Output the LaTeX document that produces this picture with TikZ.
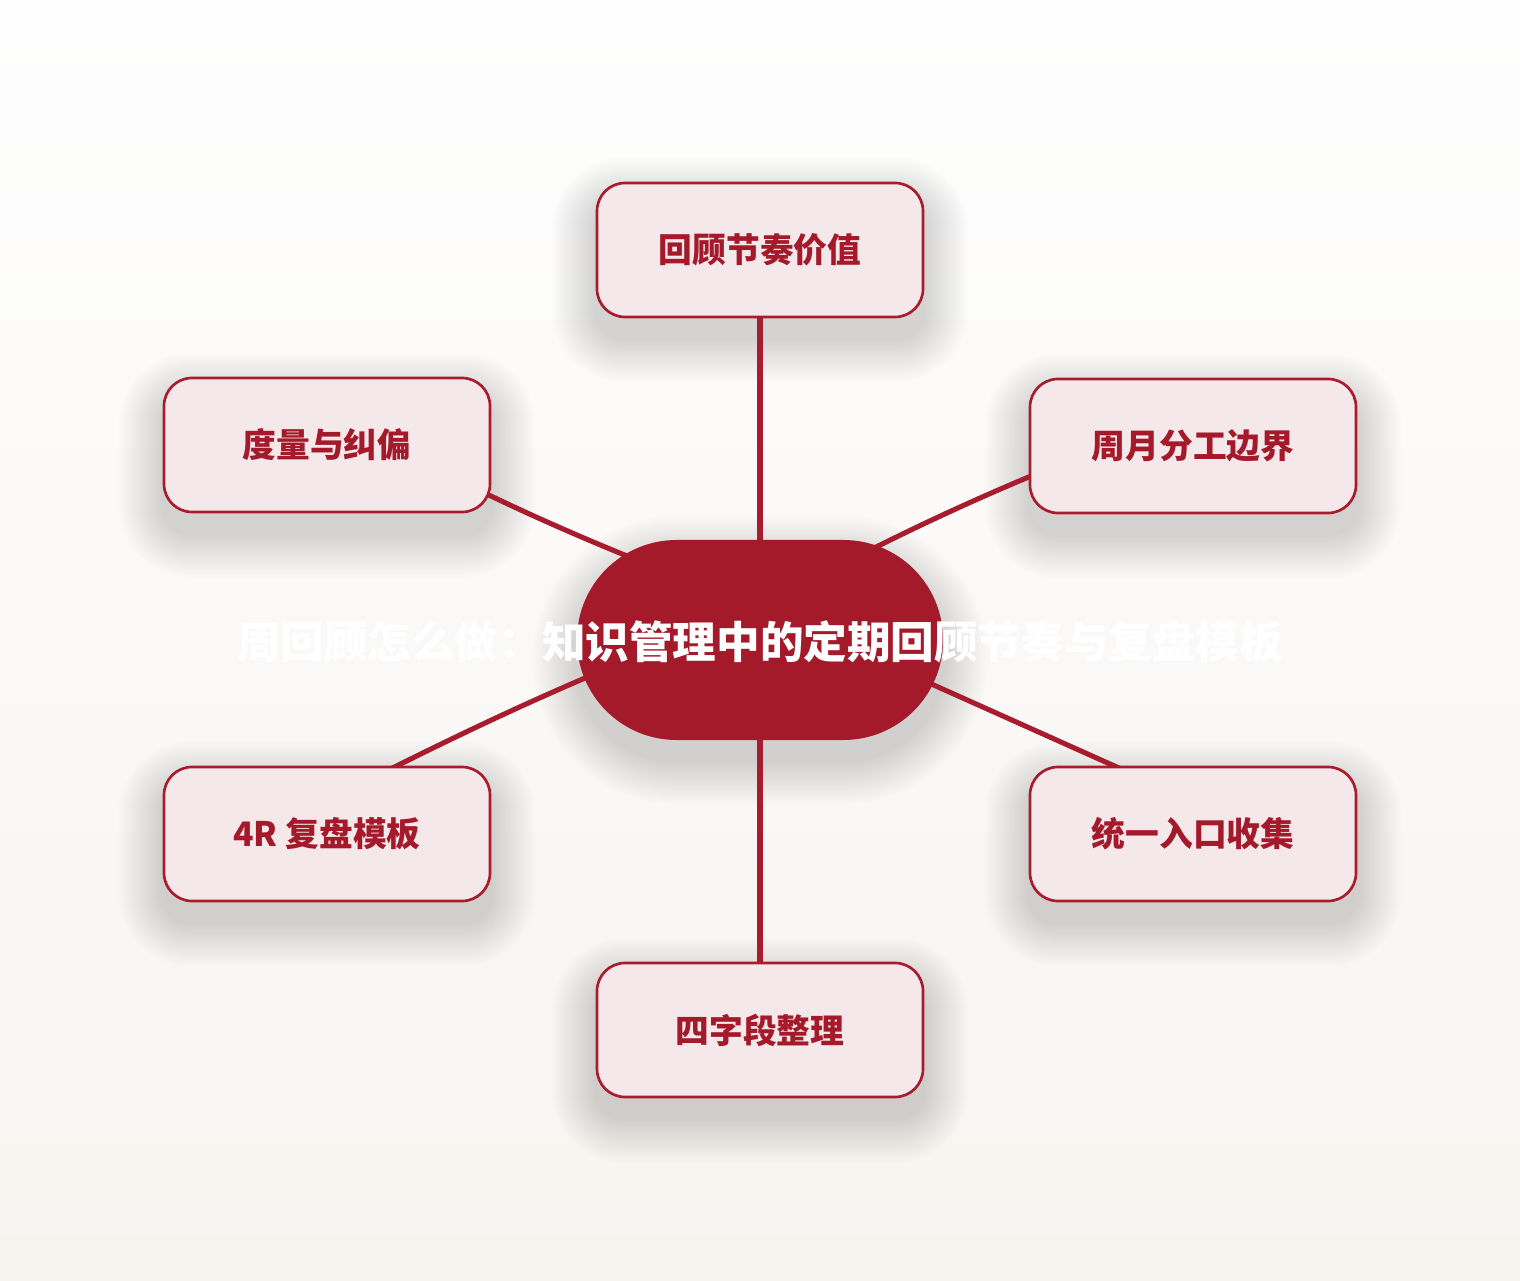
\documentclass[tikz,border=0pt]{standalone}
\usepackage{fontspec}
\IfFontExistsTF{Noto Sans CJK SC Black}
  {\setmainfont{Noto Sans CJK SC}[BoldFont={Noto Sans CJK SC Black}]}
  {\setmainfont{Noto Sans CJK SC}[BoldFont={Noto Sans CJK SC Bold}]}
\usetikzlibrary{positioning,backgrounds}

\definecolor{deepred}{HTML}{A51A2A}
\definecolor{palepink}{HTML}{F5E8EB}
\definecolor{edgered}{HTML}{A81C2D}
\definecolor{bgtop}{HTML}{FEFEFE}
\definecolor{bgbottom}{HTML}{F7F4F0}

\tikzset{
  hub/.style={fill=deepred, rounded corners=2.49cm, minimum width=9.15cm,
      minimum height=5cm, inner sep=0pt},
  hubtext/.style={text=white, inner sep=0pt,
      font=\fontsize{31}{36}\selectfont\bfseries},
  leaf/.style={draw=edgered, line width=1.9pt, fill=palepink, rounded corners=0.7cm,
      minimum width=8.15cm, minimum height=3.35cm, text=deepred,
      font=\fontsize{24}{28}\selectfont\bfseries},
  haze/.style={fill=black, opacity=0.0075},
  link/.style={draw=edgered, line width=3.6pt, line cap=round}
}

\begin{document}
\begin{tikzpicture}

  \useasboundingbox (0,0) rectangle (38,32);

  % centre
  \node[hub] (hub) at (19,16) {};
  \node[hubtext] (title) at (19,15.95) {周回顾怎么做：知识管理中的定期回顾节奏与复盘模板};

  % branches
  \node[leaf] (rhythm) at (19,25.75) {回顾节奏价值};
  \node[leaf] (measure) at (8.175,20.875) {度量与纠偏};
  \node[leaf] (split) at (29.825,20.85) {周月分工边界};
  \node[leaf] (template) at (8.175,11.15) {4R 复盘模板};
  \node[leaf] (inbox) at (29.825,11.15) {统一入口收集};
  \node[leaf] (fields) at (19,6.25) {四字段整理};

  \begin{scope}[on background layer]
    \shade[top color=bgtop, bottom color=bgbottom] (0,0) rectangle (38,32);

    % soft shadows
    \foreach \k in {1,...,20} {
      \pgfmathsetmacro\r{0.055*\k}
      \foreach \n in {rhythm,measure,split,template,inbox,fields}
        \fill[haze, rounded corners=0.7cm+\r cm]
          ([shift={(-\r,-0.5-\r)}]\n.south west) rectangle ([shift={(\r,-0.5+\r)}]\n.north east);
      \fill[haze, rounded corners=2.49cm+\r cm]
        ([shift={(-\r,-0.5-\r)}]hub.south west) rectangle ([shift={(\r,-0.5+\r)}]hub.north east);
    }

    \draw[link] (hub.center) -- (rhythm.center);
    \draw[link] (hub.center) -- (fields.center);
    \draw[link] ([yshift=0.82cm]hub.center) to[bend left=4] ([yshift=0.82cm]measure.center);
    \draw[link] ([yshift=0.82cm]hub.center) to[bend left=4] ([yshift=0.82cm]split.center);
    \draw[link] ([yshift=0.82cm]hub.center) to[bend right=3] ([yshift=0.82cm]template.center);
    \draw[link] ([yshift=0.82cm]hub.center) -- ([yshift=0.82cm]inbox.center);
  \end{scope}

\end{tikzpicture}
\end{document}
